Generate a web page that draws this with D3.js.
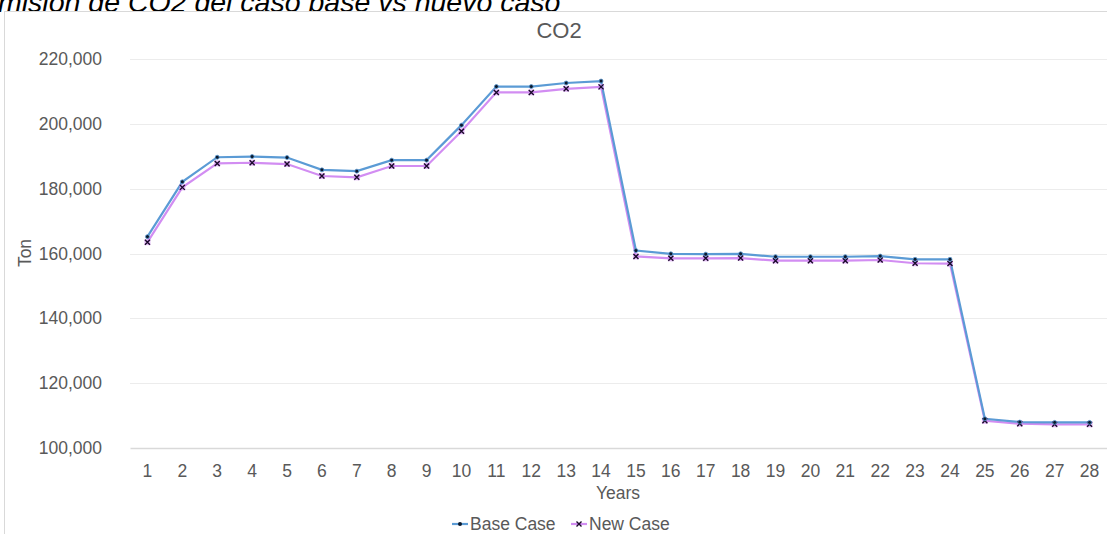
<!DOCTYPE html>
<html><head><meta charset="utf-8">
<script src="https://cdn.jsdelivr.net/npm/d3@7"></script>
<style>html,body{margin:0;padding:0;background:#fff;overflow:hidden}</style>
</head><body>
<svg id="c" width="1107" height="534"></svg>
<script>
const years = d3.range(1, 29).map(String);
const baseCase = [165200,182100,189700,189900,189600,185800,185400,188800,188800,199600,211500,211500,212600,213200,160900,159900,159800,159900,159000,159000,159000,159200,158200,158200,109000,108000,107900,107900];
const newCase  = [163500,180400,187800,188000,187600,183900,183500,187000,187000,197700,209700,209700,210800,211400,159100,158500,158500,158600,157800,157800,157800,158000,157000,156900,108400,107500,107300,107300];
const yTicks = [100000,120000,140000,160000,180000,200000,220000];
const seriesNames = ["Base Case","New Case"];

const svg = d3.select("#c");
const font = "Arial, 'Liberation Sans', sans-serif";
const grey = "#595959";
const baseColor = "#5B9BD5", newColor = "#D28DF2";

// header text (clipped)
svg.append("text").attr("x", -21).attr("y", 12).attr("font-family", font).attr("font-style","italic")
  .attr("font-size", 28.5).attr("fill", "#000").text("Emisión de CO2 del caso base vs nuevo caso");

// chart border
svg.append("rect").attr("x", 4.5).attr("y", 11.5).attr("width", 1120).attr("height", 540)
  .attr("fill", "none").attr("stroke", "#d9d9d9");

const x = d3.scaleBand().domain(years).range([130, 1107]);
const y = d3.scaleLinear().domain([100000, 220000]).range([448, 59]);

// gridlines
svg.append("g").selectAll("line").data(yTicks.filter(d => d > 100000)).join("line")
  .attr("x1", 130).attr("x2", 1107).attr("y1", d => Math.round(y(d)) + 0.5).attr("y2", d => Math.round(y(d)) + 0.5)
  .attr("stroke", "#ececec").attr("stroke-width", 1);

// y axis labels
const yAxis = d3.axisLeft(y).tickValues(yTicks).tickFormat(d3.format(",")).tickSize(0).tickPadding(0);
const gy = svg.append("g").attr("transform", "translate(102,0)").call(yAxis);
gy.select(".domain").remove();
gy.selectAll("text").attr("font-family", font).attr("font-size", 17.5).attr("fill", grey);

// x axis
const xAxis = d3.axisBottom(x).tickSize(0).tickPadding(0);
const gx = svg.append("g").attr("transform", "translate(0,448)").call(xAxis);
gx.select(".domain").attr("stroke", "#d9d9d9").attr("stroke-width", 1.5);
gx.selectAll("text").attr("font-family", font).attr("font-size", 17.5).attr("fill", grey).attr("dy", null).attr("y", 29);

// axis titles
svg.append("text").attr("x", 618).attr("y", 499).attr("text-anchor", "middle")
  .attr("font-family", font).attr("font-size", 17.5).attr("fill", grey).text("Years");
svg.append("text").attr("transform", "translate(31,253) rotate(-90)").attr("text-anchor", "middle")
  .attr("font-family", font).attr("font-size", 17.5).attr("fill", grey).text("Ton");

// chart title
svg.append("text").attr("x", 559).attr("y", 38).attr("text-anchor", "middle")
  .attr("font-family", font).attr("font-size", 22).attr("fill", grey).text("CO2");

const cx = d => x(d) + x.bandwidth() / 2;
const line = d3.line().x((d, i) => cx(years[i])).y(d => y(d));

function drawX(g, px, py, s) {
  g.append("path").attr("d", `M${px-s},${py-s}L${px+s},${py+s}M${px-s},${py+s}L${px+s},${py-s}`)
    .attr("stroke", "#1a0a2a").attr("stroke-width", 1.4).attr("fill", "none");
}

// new case line (drawn first, beneath)
svg.append("path").datum(newCase).attr("d", line).attr("fill", "none").attr("stroke", newColor).attr("stroke-width", 2.2);
svg.append("path").datum(baseCase).attr("d", line).attr("fill", "none").attr("stroke", baseColor).attr("stroke-width", 2.2);

const gm = svg.append("g");
newCase.forEach((v, i) => {
  gm.append("rect").attr("x", cx(years[i]) - 3).attr("y", y(v) - 3).attr("width", 6).attr("height", 6).attr("fill", newColor).attr("opacity", 0.6);
  drawX(gm, cx(years[i]), y(v), 2.5);
});
svg.append("g").selectAll("circle").data(baseCase).join("circle")
  .attr("cx", (d, i) => cx(years[i])).attr("cy", d => y(d)).attr("r", 2)
  .attr("fill", "#0b1a2e").attr("stroke", baseColor).attr("stroke-width", 0.8);

// legend
const leg = svg.append("g");
const legItems = [{name: seriesNames[0], color: baseColor, x0: 452}, {name: seriesNames[1], color: newColor, x0: 571}];
legItems.forEach((it, k) => {
  leg.append("line").attr("x1", it.x0).attr("x2", it.x0 + 16).attr("y1", 524).attr("y2", 524).attr("stroke", it.color).attr("stroke-width", 2.2);
  if (k === 0) leg.append("circle").attr("cx", it.x0 + 8).attr("cy", 524).attr("r", 2).attr("fill", "#0b1a2e");
  else drawX(leg, it.x0 + 8, 524, 2.5);
  leg.append("text").attr("x", it.x0 + 18).attr("y", 530).attr("font-family", font).attr("font-size", 17.5).attr("fill", grey).text(it.name);
});
</script>
</body></html>
